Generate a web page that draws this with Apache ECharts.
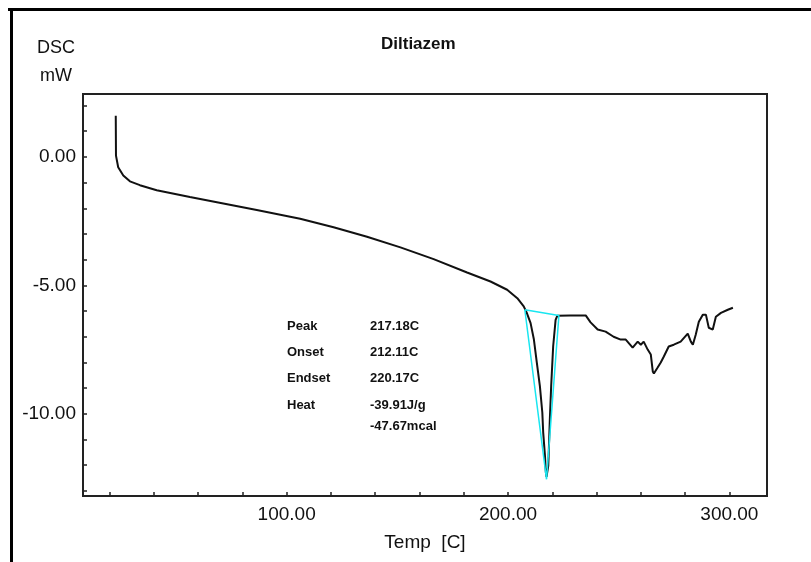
<!DOCTYPE html>
<html>
<head>
<meta charset="utf-8">
<title>Diltiazem DSC</title>
<script src="https://cdn.jsdelivr.net/npm/echarts@6/dist/echarts.min.js"></script>
<style>
  html, body { margin: 0; padding: 0; background: #fff; }
  #dsc-chart { width: 811px; height: 562px; }
</style>
</head>
<body>
<div id="dsc-chart"></div>
<script>
// DSC trace: temperature [C] and heat flow [mW]
const tempC = [
  22.8, 22.9, 23.9, 26.2, 29.2, 33.7, 41.3, 56.3, 71.4, 86.5, 101.6, 106.1,
  121.2, 136.3, 151.4, 166.4, 181.5, 192.1, 199.6, 204.2, 207.1, 208.4,
  210.2, 211.7, 213.0, 214.4, 215.5, 215.9, 216.7, 217.1, 217.4, 218.2,
  218.9, 219.5, 220.4, 221.5, 222.3, 228.0, 235.1, 237.3, 240.5, 244.1,
  247.7, 250.9, 253.2, 256.3, 258.6, 260.0, 261.3, 263.1, 264.5, 265.4,
  265.9, 267.6, 269.0, 270.4, 272.6, 274.9, 278.0, 281.2, 282.6, 283.5,
  284.8, 286.2, 288.0, 289.4, 290.7, 292.5, 293.9, 296.2, 299.3, 301.6
];
const heatFlow = [
  1.60, 0.05, -0.40, -0.72, -0.95, -1.10, -1.30, -1.56, -1.81, -2.07, -2.33, -2.41,
  -2.74, -3.11, -3.52, -3.98, -4.50, -4.85, -5.17, -5.50, -5.82, -6.05,
  -6.47, -7.11, -8.00, -8.92, -9.95, -10.73, -11.64, -12.28, -12.45, -12.02,
  -10.20, -8.92, -7.37, -6.34, -6.18, -6.17, -6.17, -6.44, -6.72, -6.80,
  -7.00, -7.11, -7.11, -7.42, -7.19, -7.31, -7.19, -7.50, -7.69, -8.35,
  -8.43, -8.20, -8.00, -7.77, -7.38, -7.31, -7.19, -6.88, -7.19, -7.31,
  -6.92, -6.42, -6.14, -6.14, -6.65, -6.72, -6.22, -6.07, -5.95, -5.87
];

// peak analysis: baseline and tangent triangle
const peakTemp = [207.6, 217.4, 223.0, 207.6];
const peakFlow = [-5.95, -12.55, -6.17, -5.95];

const xTicks = [20, 40, 60, 80, 100, 120, 140, 160, 180, 200, 220, 240, 260, 280, 300];
const xLabels = [100, 200, 300];
const yTicks = [2, 1, 0, -1, -2, -3, -4, -5, -6, -7, -8, -9, -10, -11, -12, -13];
const yLabels = [0, -5, -10];

const resultNames = ["Peak", "Onset", "Endset", "Heat", ""];
const resultValues = ["217.18C", "212.11C", "220.17C", "-39.91J/g", "-47.67mcal"];

(function () {
  const chartEl = document.getElementById("dsc-chart");
  const font = "Liberation Sans, Arial, sans-serif";
  const ink = "#111";

  function pairs(xs, ys) {
    return xs.map(function (x, i) { return [x, ys[i]]; });
  }

  function resultTexts() {
    const rowTops = [320, 346, 372, 399, 420];
    const items = [];
    resultNames.forEach(function (name, i) {
      if (name) {
        items.push({
          type: "text", left: 287, top: rowTops[i],
          style: { text: name, font: "bold 13px " + font, fill: ink }
        });
      }
      items.push({
        type: "text", left: 370, top: rowTops[i],
        style: { text: resultValues[i], font: "bold 13px " + font, fill: ink }
      });
    });
    return items;
  }

  const chart = echarts.init(chartEl, null, { renderer: "canvas" });

  chart.setOption({
    animation: false,
    backgroundColor: "#fff",
    grid: {
      left: 83, right: 44, top: 94, bottom: 66,
      show: true, borderColor: "#222", borderWidth: 2, backgroundColor: "transparent"
    },
    xAxis: {
      type: "value",
      min: 8,
      max: 317,
      name: "Temp  [C]",
      nameLocation: "middle",
      nameGap: 37,
      nameTextStyle: { fontFamily: font, fontSize: 19, color: ink },
      axisLine: { show: true, onZero: false, lineStyle: { color: "#222", width: 2 } },
      axisTick: {
        show: true, inside: true, length: 4, customValues: xTicks,
        lineStyle: { color: "#222", width: 1.5 }
      },
      axisLabel: {
        customValues: xLabels, margin: 9, fontFamily: font, fontSize: 19, color: ink,
        formatter: function (v) { return v.toFixed(2); }
      },
      splitLine: { show: false }
    },
    yAxis: {
      type: "value",
      min: -13.2,
      max: 2.45,
      axisLine: { show: true, onZero: false, lineStyle: { color: "#222", width: 2 } },
      axisTick: {
        show: true, inside: true, length: 4, customValues: yTicks,
        lineStyle: { color: "#222", width: 1.5 }
      },
      axisLabel: {
        customValues: yLabels, margin: 7, fontFamily: font, fontSize: 19, color: ink,
        formatter: function (v) { return v.toFixed(2); }
      },
      splitLine: { show: false }
    },
    graphic: [
      { type: "rect", shape: { x: 8, y: 8, width: 803, height: 3 }, style: { fill: "#000" } },
      { type: "rect", shape: { x: 10, y: 8, width: 3, height: 554 }, style: { fill: "#000" } },
      {
        type: "text", left: 381, top: 36,
        style: { text: "Diltiazem", font: "bold 17px " + font, fill: ink }
      },
      { type: "text", left: 37, top: 39, style: { text: "DSC", font: "18px " + font, fill: ink } },
      { type: "text", left: 40, top: 67, style: { text: "mW", font: "18px " + font, fill: ink } }
    ].concat(resultTexts()),
    series: [
      {
        type: "line",
        data: pairs(tempC, heatFlow),
        showSymbol: false,
        lineStyle: { color: "#111", width: 2 },
        z: 2
      },
      {
        type: "line",
        data: pairs(peakTemp, peakFlow),
        showSymbol: false,
        lineStyle: { color: "#19e6f0", width: 1.5 },
        z: 3
      }
    ]
  });
})();
</script>
</body>
</html>
